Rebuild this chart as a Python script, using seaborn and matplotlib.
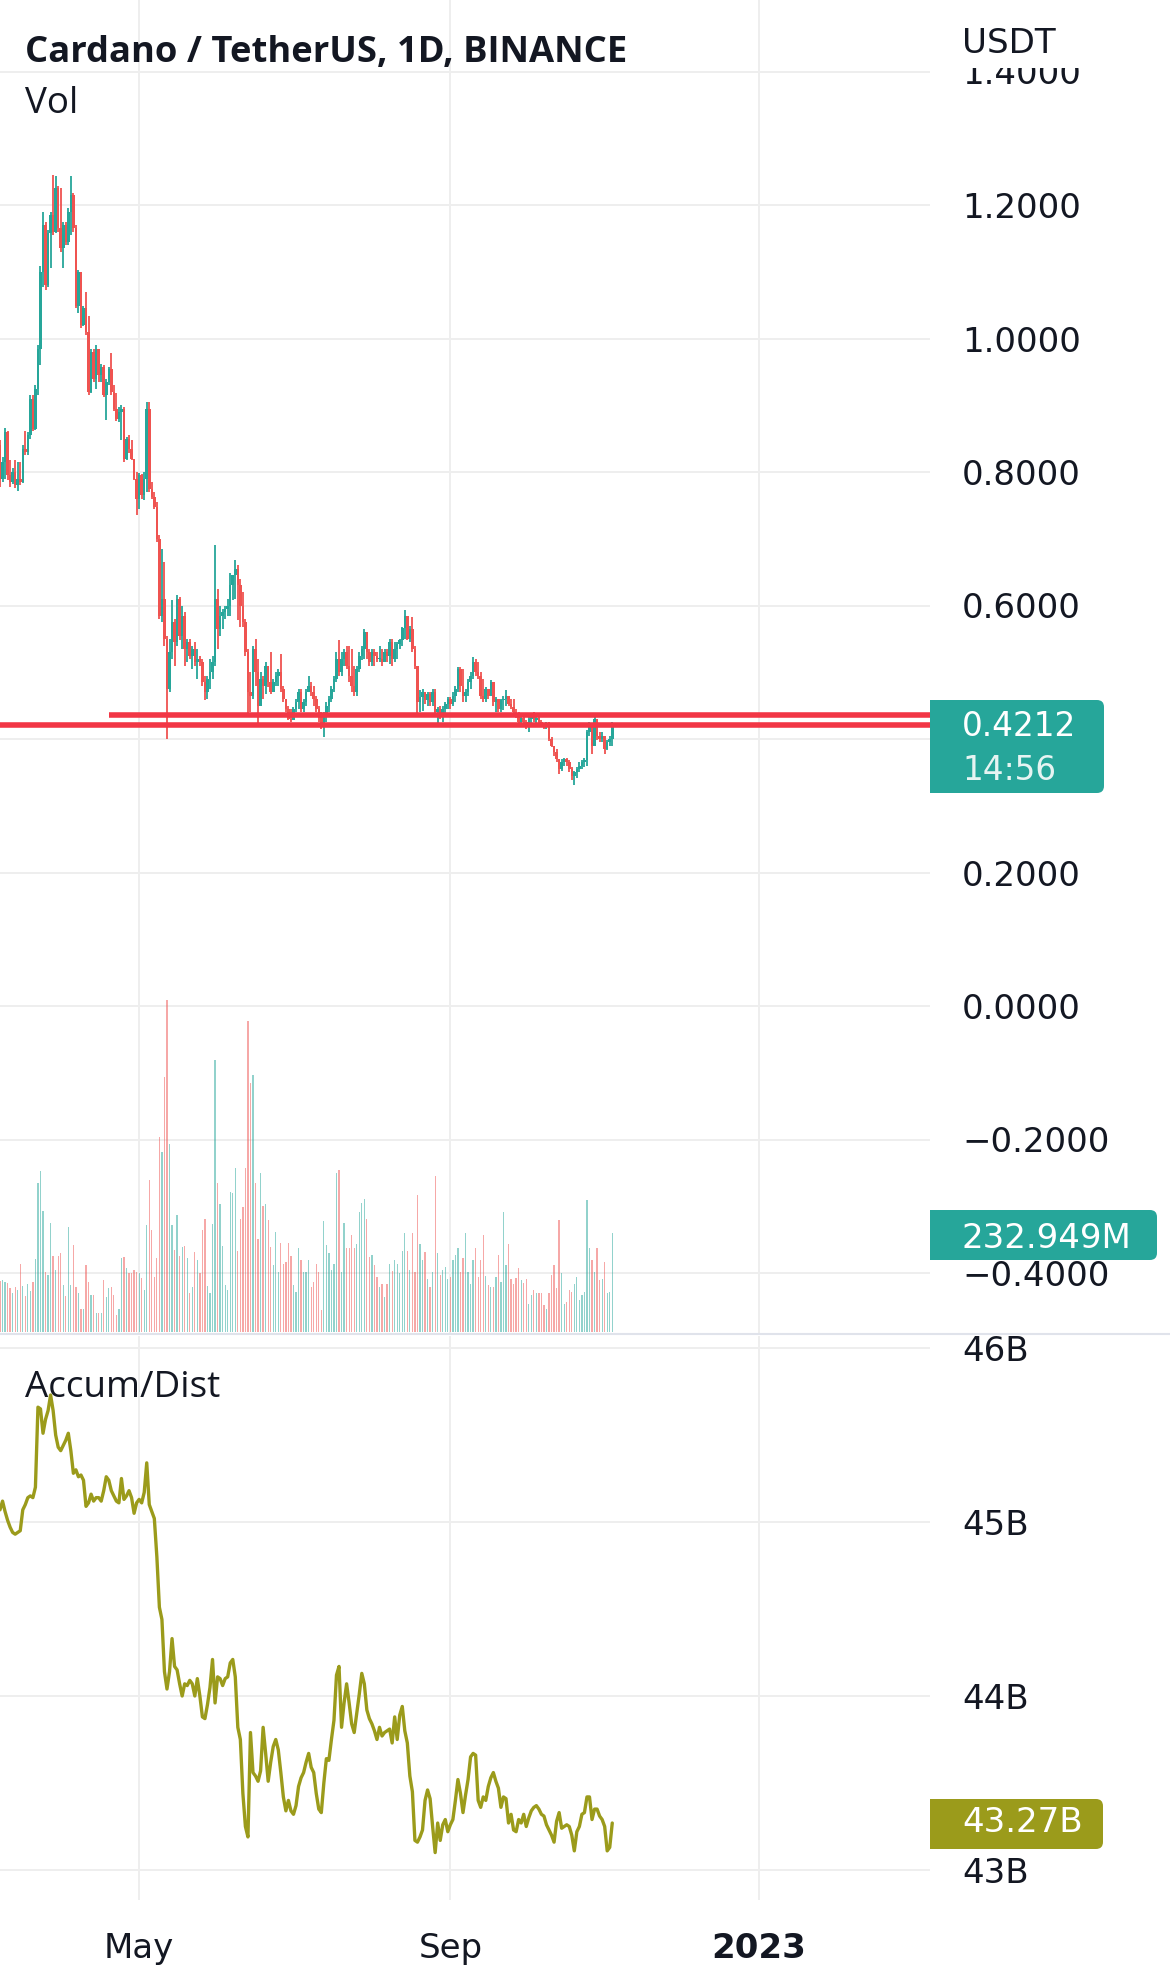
import numpy as np
import pandas as pd
import matplotlib
matplotlib.use("Agg")
import matplotlib.pyplot as plt
import matplotlib.dates as mdates
from matplotlib.patches import FancyBboxPatch, Rectangle
from matplotlib.lines import Line2D
from matplotlib.ticker import FuncFormatter
import seaborn as sns

# ---------------- data ----------------
start_date = "2022-03-07"
first_open = 0.84
close = [
 .79, .815, .86, .795, .785, .80, .78, .79, .785, .835,
 .83, .855, .91, .865, .925, .985, 1.10, 1.17, 1.08, 1.158,
 1.185, 1.16, 1.225, 1.165, 1.135, 1.17, 1.145, 1.19, 1.215, 1.165,
 1.048, 1.10, 1.02, 1.045, 1.01, .92, .98, .94, .985, .945,
 .958, .915, .935, .955, .92, .895, .88, .89, .895, .82,
 .85, .835, .82, .79, .76, .795, .765, .79, .895, .775,
 .763, .748, .70, .585, .61, .55, .475, .53, .575, .545,
 .61, .555, .585, .535, .545, .525, .535, .515, .52, .515,
 .485, .47, .49, .50, .515, .61, .565, .585, .59, .595,
 .60, .63, .645, .655, .63, .60, .575, .53, .47, .465,
 .535, .50, .45, .49, .48, .51, .485, .47, .485, .495,
 .50, .475, .46, .445, .43, .428, .445, .455, .47, .445,
 .455, .47, .48, .47, .46, .445, .435, .42, .435, .45,
 .46, .475, .49, .52, .50, .52, .53, .51, .495, .48,
 .47, .505, .525, .535, .56, .53, .515, .53, .525, .52,
 .52, .515, .53, .525, .545, .52, .535, .542, .548, .566,
 .585, .55, .565, .535, .51, .455, .463, .47, .458, .468,
 .455, .47, .44, .445, .438, .445, .453, .46, .453, .465,
 .475, .505, .48, .465, .47, .485, .495, .515, .50, .495,
 .465, .46, .475, .465, .485, .455, .46, .445, .458, .46,
 .465, .452, .448, .44, .435, .425, .432, .425, .42, .43,
 .435, .428, .432, .425, .422, .42, .423, .40, .39, .38,
 .37, .355, .365, .37, .365, .355, .345, .35, .355, .36,
 .365, .368, .41, .42, .39, .43, .405, .40, .405, .385,
 .395, .40, .4212]
high = [
 .848, .822, .866, .862, .818, .806, .818, .815, .815, .84,
 .862, .86, .916, .916, .93, .99, 1.108, 1.19, 1.175, 1.162,
 1.19, 1.245, 1.243, 1.228, 1.225, 1.175, 1.175, 1.195, 1.243, 1.218,
 1.17, 1.102, 1.10, 1.048, 1.07, 1.033, .985, .985, .99, .985,
 .962, .96, .94, .958, .978, .93, .918, .897, .90, .898,
 .853, .855, .848, .82, .80, .798, .797, .80, .905, .905,
 .785, .77, .755, .705, .685, .665, .555, .55, .608, .58,
 .615, .612, .60, .59, .55, .55, .54, .545, .535, .525,
 .52, .495, .495, .52, .525, .69, .625, .60, .595, .60,
 .61, .648, .646, .668, .66, .64, .62, .58, .535, .50,
 .54, .55, .52, .50, .495, .515, .51, .53, .49, .50,
 .505, .528, .48, .46, .45, .445, .448, .46, .475, .475,
 .46, .475, .495, .485, .48, .465, .45, .44, .44, .455,
 .465, .48, .495, .53, .548, .53, .535, .54, .54, .535,
 .51, .51, .53, .54, .565, .56, .535, .535, .535, .53,
 .54, .535, .535, .535, .55, .55, .545, .545, .55, .568,
 .593, .585, .57, .583, .54, .51, .473, .475, .47, .47,
 .47, .475, .475, .448, .45, .45, .455, .463, .463, .47,
 .48, .508, .508, .505, .475, .49, .50, .523, .52, .515,
 .50, .49, .478, .475, .488, .485, .463, .46, .46, .465,
 .473, .465, .46, .46, .445, .44, .435, .435, .428, .435,
 .438, .44, .435, .435, .428, .424, .425, .426, .403, .39,
 .385, .37, .37, .372, .372, .368, .358, .352, .358, .365,
 .368, .372, .413, .425, .42, .438, .43, .41, .41, .405,
 .398, .405, .425]
low = [
 .778, .785, .79, .788, .778, .782, .776, .772, .781, .783,
 .826, .825, .85, .862, .863, .915, .96, 1.077, 1.072, 1.077,
 1.105, 1.155, 1.158, 1.16, 1.13, 1.105, 1.14, 1.14, 1.155, 1.16,
 1.045, 1.038, 1.015, 1.018, 1.005, .915, .918, .935, .925, .935,
 .935, .912, .878, .93, .915, .892, .876, .875, .848, .815,
 .818, .828, .818, .788, .735, .745, .76, .758, .77, .77,
 .76, .745, .695, .58, .575, .54, .40, .47, .52, .51,
 .54, .548, .535, .51, .515, .52, .505, .51, .49, .51,
 .48, .458, .46, .475, .49, .51, .535, .555, .565, .58,
 .585, .585, .608, .61, .578, .568, .568, .525, .435, .44,
 .46, .48, .423, .45, .46, .468, .478, .468, .47, .48,
 .48, .47, .455, .44, .428, .425, .43, .44, .445, .44,
 .44, .45, .47, .465, .45, .44, .425, .415, .403, .425,
 .44, .455, .47, .485, .495, .495, .51, .505, .485, .47,
 .465, .465, .50, .518, .52, .52, .51, .51, .51, .515,
 .515, .51, .515, .515, .512, .51, .515, .52, .535, .54,
 .55, .548, .545, .53, .505, .438, .44, .442, .452, .45,
 .45, .45, .433, .42, .43, .425, .433, .445, .445, .45,
 .455, .47, .47, .455, .455, .465, .475, .49, .495, .49,
 .46, .455, .455, .46, .465, .45, .44, .44, .44, .443,
 .45, .45, .445, .437, .432, .42, .42, .42, .415, .41,
 .418, .425, .42, .418, .418, .415, .415, .397, .388, .375,
 .365, .348, .352, .36, .36, .35, .338, .331, .342, .35,
 .355, .358, .36, .405, .378, .39, .398, .395, .395, .378,
 .383, .39, .39]
volume_m = [
 120, 122, 118, 116, 103, 92, 105, 99, 160, 108, 85,
 114, 97, 118, 171, 351, 379, 285, 142, 134, 257,
 179, 147, 179, 186, 110, 85, 248, 110, 205, 105,
 91, 55, 55, 157, 118, 87, 87, 45, 45, 45,
 122, 83, 103, 105, 87, 40, 55, 173, 177, 150,
 138, 139, 147, 142, 138, 126, 100, 252, 357, 240,
 130, 173, 459, 424, 601, 781, 442, 251, 193, 275,
 179, 201, 202, 173, 92, 106, 189, 169, 138, 241,
 267, 108, 92, 254, 641, 350, 301, 202, 110, 99,
 330, 328, 385, 191, 267, 293, 385, 732, 586, 605,
 351, 218, 373, 296, 301, 263, 199, 157, 236, 142,
 210, 161, 165, 210, 179, 110, 95, 197, 169,
 142, 142, 169, 105, 118, 161, 142, 52, 262, 205,
 185, 147, 161, 373, 381, 142, 257, 197, 197, 228,
 197, 208, 283, 303, 312, 267, 177, 181, 157, 130,
 106, 113, 83, 114, 161, 144, 169, 161, 139, 191,
 234, 191, 147, 234, 142, 322, 208, 169, 189, 124,
 105, 142, 367, 185, 134, 147, 154, 124, 130, 169,
 181, 197, 142, 173, 232, 142, 114, 169, 197, 130,
 169, 228, 132, 110, 105, 106, 130, 181, 118, 283,
 157, 208, 124, 114, 126, 150, 122, 116, 124, 67,
 87, 100, 92, 91, 91, 63, 55, 91, 134,
 157, 103, 263, 138, 66, 71, 99, 95, 114,
 130, 75, 87, 95, 310, 197, 169, 142, 197, 122,
 124, 165, 92, 95, 233]
accum_dist_b = [
 45.07, 45.12, 45.06, 45.01, 44.97, 44.94, 44.93, 44.94, 44.95, 45.07,
 45.10, 45.14, 45.15, 45.14, 45.20, 45.66, 45.65, 45.51, 45.59, 45.64,
 45.73, 45.64, 45.50, 45.43, 45.41, 45.44, 45.47, 45.51, 45.41, 45.28,
 45.30, 45.26, 45.27, 45.24, 45.09, 45.11, 45.16, 45.12, 45.14, 45.14,
 45.12, 45.18, 45.26, 45.24, 45.18, 45.15, 45.12, 45.11, 45.25, 45.13,
 45.15, 45.18, 45.14, 45.05, 45.11, 45.13, 45.11, 45.17, 45.34, 45.10,
 45.06, 45.02, 44.80, 44.51, 44.44, 44.14, 44.04, 44.14, 44.33, 44.17,
 44.15, 44.07, 44.00, 44.07, 44.06, 44.09, 44.07, 44.00, 44.10, 44.00,
 43.88, 43.87, 43.95, 44.05, 44.21, 43.96, 44.11, 44.10, 44.06, 44.10,
 44.11, 44.19, 44.21, 44.11, 43.82, 43.75, 43.44, 43.25, 43.19, 43.79,
 43.56, 43.54, 43.51, 43.57, 43.82, 43.67, 43.51, 43.62, 43.71, 43.75,
 43.69, 43.56, 43.42, 43.34, 43.40, 43.34, 43.32, 43.37, 43.48, 43.53,
 43.56, 43.62, 43.67, 43.59, 43.56, 43.44, 43.35, 43.33, 43.50, 43.64,
 43.63, 43.75, 43.86, 44.12, 44.17, 43.82, 43.96, 44.07, 43.96, 43.84,
 43.79, 43.90, 44.01, 44.13, 44.07, 43.92, 43.87, 43.84, 43.80, 43.75,
 43.82, 43.77, 43.79, 43.80, 43.81, 43.73, 43.88, 43.75, 43.89, 43.94,
 43.80, 43.73, 43.54, 43.45, 43.17, 43.16, 43.19, 43.23, 43.40, 43.46,
 43.41, 43.25, 43.10, 43.27, 43.17, 43.26, 43.29, 43.22, 43.26, 43.29,
 43.40, 43.52, 43.44, 43.33, 43.43, 43.52, 43.65, 43.67, 43.66, 43.40,
 43.36, 43.42, 43.40, 43.48, 43.53, 43.56, 43.51, 43.47, 43.36, 43.42,
 43.41, 43.27, 43.32, 43.23, 43.22, 43.29, 43.27, 43.32, 43.25, 43.30,
 43.34, 43.36, 43.37, 43.35, 43.32, 43.31, 43.26, 43.23, 43.20, 43.16,
 43.28, 43.33, 43.24, 43.25, 43.26, 43.25, 43.20, 43.11, 43.22, 43.25,
 43.32, 43.33, 43.42, 43.42, 43.29, 43.35, 43.35, 43.31, 43.29, 43.25,
 43.11, 43.13, 43.27]

price_ticks = [-0.4, -0.2, 0.0, 0.2, 0.4, 0.6, 0.8, 1.0, 1.2, 1.4]
hidden_price_ticks = [0.4]          # covered by the last-price label
ad_ticks = [43, 44, 45, 46]
time_tick_dates = ["2022-05-01", "2022-09-01", "2023-01-01"]
time_tick_labels = ["May", "Sep", "2023"]
level_prices = [0.436, 0.421]
level_start_dates = ["2022-04-19", None]
title = "Cardano / TetherUS, 1D, BINANCE"
last_price_txt = "0.4212"
countdown_txt = "14:56"
last_vol_txt = "232.949M"
last_ad_txt = "43.27B"

# ---------------- style ----------------
sns.set_theme(style="white")
plt.rcParams["font.family"] = ["DejaVu Sans"]
TEAL = "#26A69A"
RED = "#EF5350"
LEVEL = "#F23645"
ADC = "#9B9B1B"
TXT = "#131722"
GRID = "#EEEEEE"

W, H = 1170, 1986
fig = plt.figure(figsize=(W / 100, H / 100), dpi=100)
fig.patch.set_facecolor("white")

def fx(px):
    return px / W

def fy(py):
    return 1 - py / H

n = min(len(close), len(high), len(low), len(volume_m), len(accum_dist_b))
dates = pd.date_range(start_date, periods=n, freq="D")
x = mdates.date2num(dates)
c = np.array(close[:n])
o = np.r_[first_open, c[:-1]]
hi = np.maximum(np.array(high[:n]), np.maximum(o, c))
lo = np.minimum(np.array(low[:n]), np.minimum(o, c))
vol = np.array(volume_m[:n]) * 1e6
ad = np.array(accum_dist_b[:n])
up = c >= o

PX_PER_DAY = 2.53
xl = (x[0], x[0] + 930 / PX_PER_DAY)

# price pane
rect_p = [0, fy(1333), fx(930), 1333 / H]
ax = fig.add_axes(rect_p)
ax.set_xlim(*xl)
ax.set_ylim(-327 / 667.5, 1006 / 667.5)
cols = np.where(up, TEAL, RED)
ax.vlines(x, lo, hi, colors=cols, lw=1.3, zorder=3)
body_h = np.maximum(np.abs(c - o), 0.002)
ax.bar(x, body_h, bottom=np.minimum(o, c), width=1.0, color=cols,
       linewidth=0, zorder=3)
for lvl, sd in zip(level_prices, level_start_dates):
    x0 = mdates.date2num(pd.Timestamp(sd)) if sd else xl[0]
    ax.hlines(lvl, x0, xl[1], colors=LEVEL, lw=4.0, zorder=5)


def price_fmt(v, p):
    v = round(v, 4) + 0.0
    if any(abs(v - h) < 1e-9 for h in hidden_price_ticks):
        return ""
    return f"{v:.4f}".replace("-", "\u2212")


ax.set_yticks(price_ticks)
ax.yaxis.set_major_formatter(FuncFormatter(price_fmt))
ax.yaxis.tick_right()
ax.tick_params(axis="y", length=0, pad=23, labelsize=24.5, labelcolor=TXT)
tick_x = [mdates.date2num(pd.Timestamp(d)) for d in time_tick_dates]
ax.set_xticks(tick_x)
ax.tick_params(axis="x", length=0, labelbottom=False)
ax.grid(True, color=GRID, lw=1.4)
for s in ax.spines.values():
    s.set_visible(False)

# volume overlay
vax = fig.add_axes(rect_p, sharex=ax)
vax.patch.set_visible(False)
up_rgba = (38 / 255, 166 / 255, 154 / 255, 0.5)
dn_rgba = (239 / 255, 83 / 255, 80 / 255, 0.5)
vcols = [up_rgba if u else dn_rgba for u in up]
vax.bar(x, vol, width=0.5, color=vcols, linewidth=0)
vax.set_ylim(-2.353e6, 1332 * 2.353e6)
vax.axis("off")

# accum/dist pane
rect_a = [0, fy(1900), fx(930), (1900 - 1336) / H]
aax = fig.add_axes(rect_a, sharex=ax)
sns.lineplot(x=x, y=ad, ax=aax, color=ADC, lw=2.4, estimator=None)
aax.set_ylim(46 - 552 / 174, 46 + 12 / 174)
aax.set_yticks(ad_ticks)
aax.set_yticklabels([f"{t}B" for t in ad_ticks])
aax.yaxis.tick_right()
aax.tick_params(axis="y", length=0, pad=23, labelsize=24.5, labelcolor=TXT)
aax.set_xlim(*xl)
aax.set_xticks(tick_x)
aax.set_xticklabels(time_tick_labels)
aax.tick_params(axis="x", length=0, pad=23, labelsize=24.5, labelcolor=TXT,
                labelbottom=True)
aax.get_xticklabels()[2].set_fontweight("bold")
aax.grid(True, color=GRID, lw=1.4)
aax.set_xlabel("")
aax.set_ylabel("")
for s in aax.spines.values():
    s.set_visible(False)

# separator
fig.add_artist(Line2D([0, 1], [fy(1334), fy(1334)], transform=fig.transFigure,
                      color="#E0E3EB", lw=1.5))

# header over the price scale
fig.add_artist(Rectangle((fx(931), fy(68)), fx(239), 68 / H, transform=fig.transFigure,
                         facecolor="white", edgecolor="none", zorder=5))
fig.text(fx(962), fy(53), "USDT", fontsize=24.5, color=TXT, ha="left",
         va="baseline", zorder=6)

# titles
fig.text(fx(25), fy(62), title, family="Open Sans", fontweight="bold",
         fontsize=26.2, color=TXT, ha="left", va="baseline", zorder=6)
fig.text(fx(25), fy(113), "Vol", family="Open Sans", fontsize=26.5,
         color=TXT, ha="left", va="baseline", zorder=6)
fig.text(fx(25), fy(1397), "Accum/Dist", family="Open Sans", fontsize=26.5,
         color=TXT, ha="left", va="baseline", zorder=6)

# value labels
def label_box(top, bottom, right, color):
    box = FancyBboxPatch((fx(930), fy(bottom)), fx(right - 930), (bottom - top) / H,
                         boxstyle="round,pad=0,rounding_size=0.006",
                         transform=fig.transFigure, facecolor=color,
                         edgecolor="none", zorder=7, mutation_aspect=W / H)
    fig.add_artist(box)
    fig.add_artist(Rectangle((fx(930), fy(bottom)), fx(20), (bottom - top) / H,
                             transform=fig.transFigure, facecolor=color,
                             edgecolor="none", zorder=7))

label_box(700, 793, 1104, TEAL)
fig.text(fx(962), fy(736), last_price_txt, fontsize=23.5, color="white",
         ha="left", va="baseline", zorder=8)
fig.text(fx(962), fy(780), countdown_txt, fontsize=23.5, color="#E6F4F2",
         ha="left", va="baseline", zorder=8)
label_box(1210, 1260, 1157, TEAL)
fig.text(fx(962), fy(1248), last_vol_txt, fontsize=24.5, color="white",
         ha="left", va="baseline", zorder=8)
label_box(1799, 1849, 1103, ADC)
fig.text(fx(962), fy(1832), last_ad_txt, fontsize=24.5, color="white",
         ha="left", va="baseline", zorder=8)

fig.savefig("out.png", dpi=100, facecolor="white")
